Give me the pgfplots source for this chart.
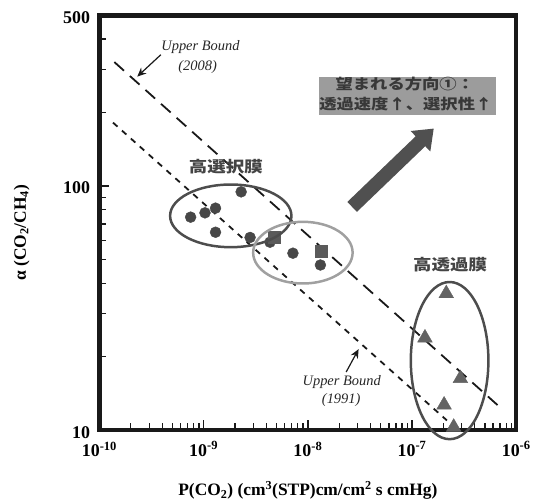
\documentclass[border=0pt]{standalone}
\usepackage{fontspec}
\setmainfont{Liberation Serif}
\newfontfamily\cjk{Noto Sans CJK JP}
\usepackage{pgfplots}
\pgfplotsset{compat=1.18}
\usetikzlibrary{arrows.meta}
\definecolor{mk}{HTML}{474747}
\definecolor{elldark}{HTML}{4D4D4D}
\definecolor{elllight}{HTML}{A0A0A0}
\definecolor{boxfill}{HTML}{9C9C9C}
\definecolor{boxtext}{HTML}{383838}
\definecolor{bigarrow}{HTML}{505050}
\definecolor{lblgray}{HTML}{444444}
\newcommand\tl[1]{{\fontsize{18}{20}\selectfont\bfseries #1}}

\pgfplotstableread{
x y
7.5e-10 74.6
1.03e-9 77.7
1.30e-9 81.2
1.30e-9 64.7
2.29e-9 94.7
2.79e-9 61.6
4.33e-9 58.9
7.19e-9 53.1
1.32e-8 47.5
}\circles
\pgfplotstableread{
x y
4.78e-9 61.6
1.34e-8 53.9
}\squares
\pgfplotstableread{
x y
2.13e-7 36.3
1.33e-7 23.9
2.91e-7 16.3
2.03e-7 12.7
2.51e-7 10.3
}\triangles

\begin{document}
\begin{tikzpicture}
\begin{axis}[
  at={(0pt,0pt)}, anchor=south west,
  scale only axis, width=419pt, height=417pt,
  xmode=log, ymode=log,
  xmin=1e-10, xmax=1e-6, ymin=10, ymax=500,
  clip=false,
  /pgf/number format/assume math mode=true,
  axis line style={line width=4.5pt, black!90},
  tick align=inside,
  xtick pos=bottom, ytick pos=left,
  major tick length=10pt, minor tick length=7pt,
  every tick/.style={line width=1.3pt, black!90},
  xtick={1e-10,1e-9,1e-8,1e-7,1e-6},
  xticklabels={\tl{10\textsuperscript{-10}},\tl{10\textsuperscript{-9}},\tl{10\textsuperscript{-8}},\tl{10\textsuperscript{-7}},\tl{10\textsuperscript{-6}}},
  minor xtick={2e-10,3e-10,4e-10,5e-10,6e-10,7e-10,8e-10,9e-10,
               2e-9,3e-9,4e-9,5e-9,6e-9,7e-9,8e-9,9e-9,
               2e-8,3e-8,4e-8,5e-8,6e-8,7e-8,8e-8,9e-8,
               2e-7,3e-7,4e-7,5e-7,6e-7,7e-7,8e-7,9e-7},
  ytick={10,100,500},
  yticklabels={\tl{10},\tl{100},\tl{500}},
  minor ytick={20,30,40,50,60,70,80,90,200,300,400},
  ticklabel style={black},
  xticklabel style={yshift=-8pt},
  yticklabel style={xshift=-6pt, yshift=-2pt},
]
\addplot[only marks, mark=*, mark size=5.5pt, mk] table {\circles};
\addplot[only marks, mark=square*, mark size=6pt, mk!90!white] table {\squares};
\addplot[only marks, mark=triangle*, mark size=8.5pt, mk!85!white] table {\triangles};
% Upper bound 2008
\addplot[line width=1.8pt, black!90, dash pattern=on 13pt off 8pt] coordinates {(1.39e-10,322) (7.31e-7,12.2)};
% Upper bound 1991
\addplot[line width=1.8pt, black!90, dash pattern=on 6pt off 6pt] coordinates {(1.35e-10,181.9) (2.16e-7,10.97)};
\end{axis}

% ellipses
\draw[elldark, line width=2.5pt] (132pt,215.5pt) ellipse [x radius=61pt, y radius=31.5pt];
\draw[elllight, line width=2.5pt] (204.5pt,178.5pt) ellipse [x radius=50pt, y radius=31pt];
\draw[elldark, line width=2.5pt] (352pt,70pt) ellipse [x radius=39pt, y radius=79pt];

% big arrow
\fill[bigarrow] (249.2pt,229.5pt) -- (258.8pt,219.5pt) -- (327.5pt,285.5pt) -- (332.6pt,280.2pt)
  -- (336pt,303.2pt) -- (312.8pt,300.8pt) -- (317.9pt,295.5pt) -- cycle;

% text box
\fill[boxfill] (221pt,355.5pt) rectangle (399pt,316.5pt);
\node[boxtext, xscale=1.2] at (307pt,348.5pt) {\cjk\bfseries\fontsize{14.5}{16}\selectfont 望まれる方向①：};
\node[boxtext, xscale=1.2] at (308pt,327.5pt) {\cjk\bfseries\fontsize{14.5}{16}\selectfont 透過速度↑、選択性↑};

% group labels
\node[lblgray, xscale=1.2] at (127pt,264.5pt) {\cjk\bfseries\fontsize{15.5}{17}\selectfont 高選択膜};
\node[lblgray, xscale=1.2] at (352.5pt,166pt) {\cjk\bfseries\fontsize{15.5}{17}\selectfont 高透過膜};

% upper bound labels
\node[black!85] at (101.5pt,385pt) {\fontsize{14.5}{16}\selectfont\itshape Upper Bound};
\node[black!85] at (98.7pt,365pt) {\fontsize{14.5}{16}\selectfont\itshape (2008)};
\draw[black!90, line width=1.2pt, -{Stealth[length=9pt,width=8pt]}] (61.7pt,377.5pt) -- (38pt,355.5pt);
\node[black!85] at (243.5pt,48.8pt) {\fontsize{14.5}{16}\selectfont\itshape Upper Bound};
\node[black!85] at (243pt,30.7pt) {\fontsize{14.5}{16}\selectfont\itshape (1991)};
\draw[black!90, line width=1.2pt, -{Stealth[length=9pt,width=8pt]}] (248pt,58.5pt) -- (260.5pt,81.5pt);

% axis labels
\node[rotate=90] at (-78.3pt,198.5pt) {\fontsize{17.5}{20}\selectfont\bfseries α (CO\textsubscript{2}/CH\textsubscript{4})};
\node at (209.5pt,-60.5pt) {\fontsize{17.5}{20}\selectfont\bfseries P(CO\textsubscript{2}) (cm\textsuperscript{3}(STP)cm/cm\textsuperscript{2} s cmHg)};

\path[use as bounding box] (-100pt,432.5pt) rectangle (434pt,-69.5pt);
\end{tikzpicture}
\end{document}
